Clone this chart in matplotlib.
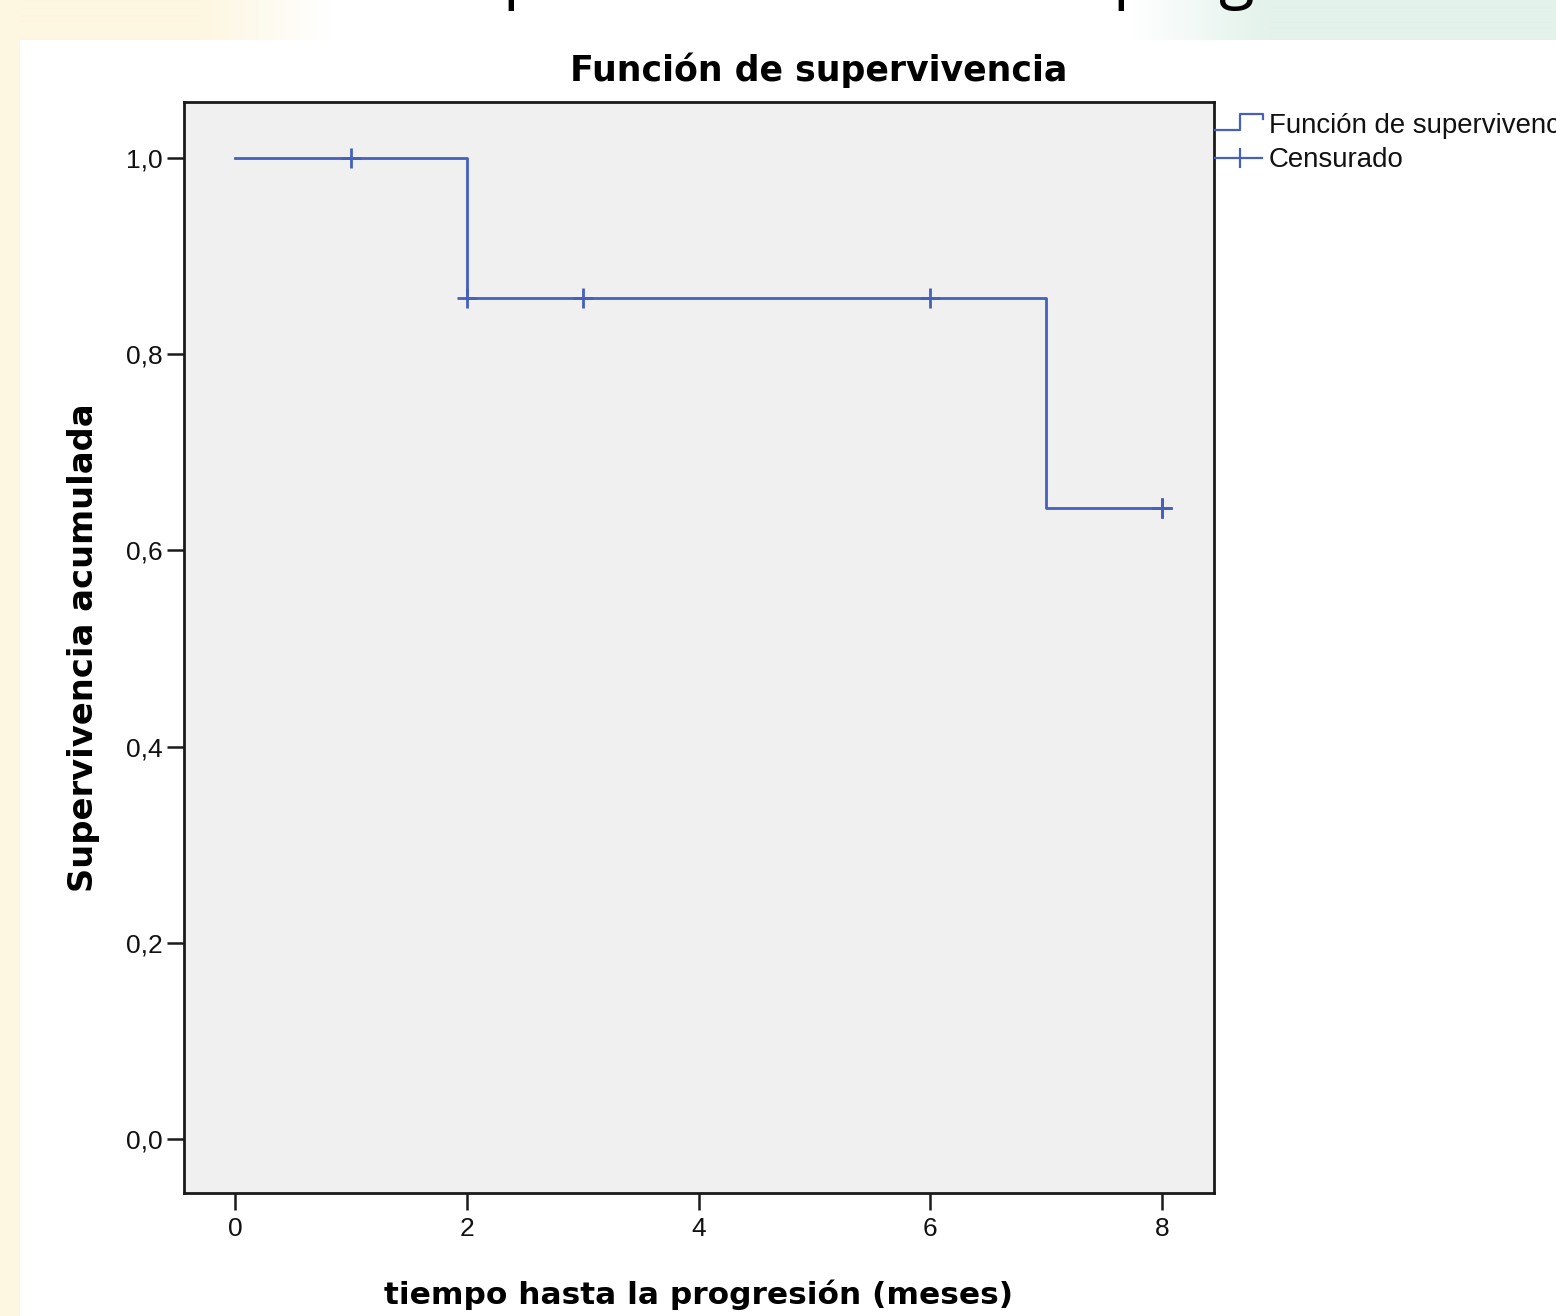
import numpy as np
import matplotlib
matplotlib.use('Agg')
import matplotlib.pyplot as plt
from matplotlib.patches import Rectangle
from matplotlib.lines import Line2D

# ---- data ----
event_times = [0, 2, 7, 8]
survival = [1.0, 0.857, 0.643, 0.643]
censor_times = [1, 2, 3, 6, 8, 8, 8]
x_ticks = [0, 2, 4, 6, 8]
y_ticks = [0.0, 0.2, 0.4, 0.6, 0.8, 1.0]
y_tick_labels = ['0,0', '0,2', '0,4', '0,6', '0,8', '1,0']
title = 'Función de supervivencia'
xlabel = 'tiempo hasta la progresión (meses)'
ylabel = 'Supervivencia acumulada'
legend_labels = ['Función de supervivencia', 'Censurado']
slide_title = 'Supervivencia libre de progresión'

W, H = 1556, 1316
blue = '#4560bd'
reg_font = 'Liberation Sans'
bold_font = 'DejaVu Sans'

fig = plt.figure(figsize=(W / 100, H / 100), dpi=100)
fig.patch.set_facecolor('white')

# ---- slide background ----
bg = fig.add_axes([0, 0, 1, 1], zorder=-10)
bg.set_xlim(0, W)
bg.set_ylim(H, 0)
bg.axis('off')
xs = np.arange(W)
cream = np.array([253, 246, 224]) / 255
white = np.array([1.0, 1.0, 1.0])
mint = np.array([227, 242, 235]) / 255
t1 = np.clip((xs - 200) / 130, 0, 1)[:, None]
t2 = np.clip((xs - 1130) / 140, 0, 1)[:, None]
row = cream * (1 - t1) + white * t1
row = row * (1 - t2) + mint * t2
bg.imshow(row[None, :, :], extent=(0, W, 40, 0), aspect='auto', interpolation='bilinear')
bg.add_patch(Rectangle((0, 0), 20, H, color=(253 / 255, 246 / 255, 224 / 255), lw=0))
bg.set_xlim(0, W)
bg.set_ylim(H, 0)

# cut-off slide title (only descenders visible)
fig.text(427 / W, 1 + 5 / H, slide_title, ha='left', va='baseline',
         fontsize=47, family='Open Sans', color='black')

# ---- main axes ----
ax = fig.add_axes([184 / W, 123 / H, (1214 - 184) / W, (1193 - 102) / H])
ax.set_facecolor('#f0f0f0')
ax.step(event_times, survival, where='post', color=blue, lw=2.0)
ev = np.array(event_times)
censor_surv = [survival[int(np.searchsorted(ev, t, side='right') - 1)] for t in censor_times]
ax.plot(censor_times, censor_surv, ls='none', marker='+', ms=14.5, mew=2.0, color=blue)

ax.set_xlim(-51 / 115.875, 8 + 52 / 115.875)
ax.set_ylim(-(1193 - 1139) / 981, 1 + (158 - 102) / 981)
ax.set_xticks(x_ticks)
ax.set_xticklabels([str(t) for t in x_ticks])
ax.set_yticks(y_ticks)
ax.set_yticklabels(y_tick_labels)
ax.tick_params(length=12.5, width=1.8, direction='out', labelsize=19, pad=3,
               color='#1a1a1a', labelcolor='#111111')
ax.tick_params(axis='x', pad=5)
for lab in ax.get_xticklabels() + ax.get_yticklabels():
    lab.set_family(reg_font)
for sp in ax.spines.values():
    sp.set_linewidth(2.0)
    sp.set_color('#1a1a1a')

fig.text(819 / W, 1 - 70 / H, title, ha='center', va='center', fontsize=25,
         fontweight='bold', family=bold_font)
fig.text(698.5 / W, 1 - 1295 / H, xlabel, ha='center', va='center', fontsize=22.5,
         fontweight='bold', family=bold_font)
fig.text(84 / W, 1 - 647.5 / H, ylabel, ha='center', va='center', fontsize=24.3,
         fontweight='bold', family=bold_font, rotation=90)

# ---- legend (outside plot, right) ----
bg2 = fig.add_axes([0, 0, 1, 1], zorder=5)
bg2.set_xlim(0, W)
bg2.set_ylim(H, 0)
bg2.axis('off')
bg2.add_line(Line2D([1215, 1240, 1240, 1263, 1263], [130, 130, 114, 114, 119],
                    color=blue, lw=1.6))
bg2.add_line(Line2D([1215, 1262], [158, 158], color=blue, lw=1.6))
bg2.add_line(Line2D([1240], [158], color=blue, marker='|', ms=14.5, mew=1.6, ls='none'))
bg2.text(1269, 126, legend_labels[0], ha='left', va='center', fontsize=19.9, family=reg_font,
         color='#111111')
bg2.text(1269, 160, legend_labels[1], ha='left', va='center', fontsize=19.9, family=reg_font,
         color='#111111')

fig.savefig('out.png', dpi=100)
